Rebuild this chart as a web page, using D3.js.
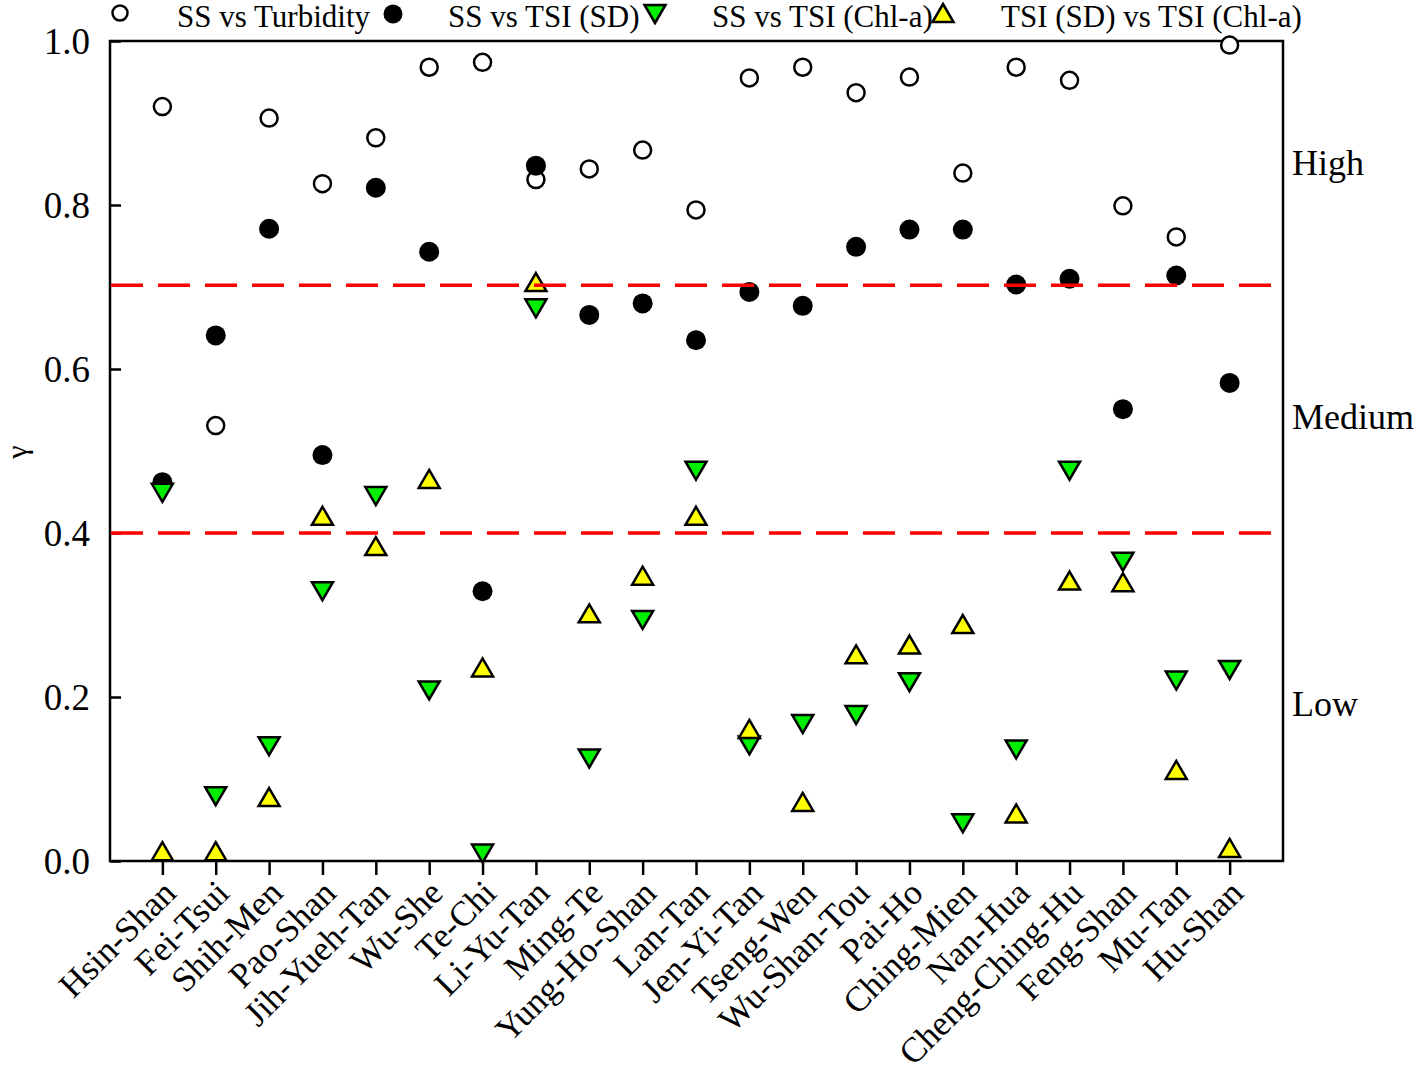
<!DOCTYPE html>
<html>
<head>
<meta charset="utf-8">
<script src="https://cdn.jsdelivr.net/npm/d3@7"></script>
<style>
  html, body { margin: 0; padding: 0; background: #fff; }
  svg { display: block; }
  text { font-family: "Liberation Serif", "Times New Roman", serif; fill: #000; }
</style>
</head>
<body>
<svg id="chart" width="1416" height="1080"></svg>
<script>
// ---------------- DATA ----------------
const categories = ["Hsin-Shan","Fei-Tsui","Shih-Men","Pao-Shan","Jih-Yueh-Tan","Wu-She","Te-Chi",
  "Li-Yu-Tan","Ming-Te","Yung-Ho-Shan","Lan-Tan","Jen-Yi-Tan","Tseng-Wen","Wu-Shan-Tou","Pai-Ho",
  "Ching-Mien","Nan-Hua","Cheng-Ching-Hu","Feng-Shan","Mu-Tan","Hu-Shan"];

const ssVsTurbidity = [0.920,0.531,0.906,0.826,0.882,0.968,0.974,0.831,0.844,0.867,0.794,
  0.955,0.968,0.937,0.956,0.839,0.968,0.952,0.799,0.761,0.995];
const ssVsTsiSD = [0.462,0.641,0.771,0.495,0.821,0.743,0.329,0.848,0.666,0.680,0.635,
  0.694,0.677,0.749,0.770,0.770,0.703,0.710,0.551,0.714,0.583];
const ssVsTsiChla = [0.449,0.079,0.140,0.329,0.445,0.208,0.009,0.674,0.125,0.294,0.476,
  0.141,0.167,0.178,0.218,0.046,0.136,0.476,0.365,0.220,0.233];
const tsiSDvsTsiChla = [0.012,0.012,0.078,0.421,0.384,0.466,0.236,0.706,0.302,0.348,0.421,
  0.161,0.072,0.252,0.264,0.289,0.058,0.342,0.340,0.111,0.016];

const yTicks = [0.0,0.2,0.4,0.6,0.8,1.0];
const thresholds = [0.4,0.702];
const levelLabels = [{text:"High", v:0.85},{text:"Medium", v:0.54},{text:"Low", v:0.19}];
const seriesNames = ["SS vs Turbidity","SS vs TSI (SD)","SS vs TSI (Chl-a)","TSI (SD) vs TSI (Chl-a)"];

// ---------------- LAYOUT ----------------
const svg = d3.select("#chart");
const L = 110, R = 1283, T = 41, B = 861;

const x = d3.scaleLinear().domain([0, categories.length + 1]).range([L - 1, R]);
const y = d3.scaleLinear().domain([0, 1]).range([B, T]);

// x ticks (outward) and rotated labels
const xAxis = d3.axisBottom(x)
  .tickValues(d3.range(1, categories.length + 1))
  .tickSize(14).tickSizeOuter(0)
  .tickFormat(i => categories[i - 1]);
const gx = svg.append("g").attr("transform", `translate(0,${B})`).call(xAxis);
gx.select(".domain").remove();
gx.selectAll(".tick line").attr("stroke", "#000").attr("stroke-width", 2.5);
gx.selectAll(".tick text")
  .attr("font-size", 35)
  .attr("text-anchor", "end")
  .attr("x", 0).attr("y", 0).attr("dy", 0)
  .attr("transform", "translate(15,34) rotate(-45)");

// y ticks (inward)
const yAxis = d3.axisLeft(y).tickValues(yTicks).tickSize(-11).tickSizeOuter(0)
  .tickFormat(d3.format(".1f"));
const gy = svg.append("g").attr("transform", `translate(${L},0)`).call(yAxis);
gy.select(".domain").remove();
gy.selectAll(".tick line").attr("stroke", "#000").attr("stroke-width", 2.5);
gy.selectAll(".tick text").attr("font-size", 37).attr("x", -20).attr("dy", "0.34em");

// frame
svg.append("rect").attr("x", L).attr("y", T).attr("width", R - L).attr("height", B - T)
  .attr("fill", "none").attr("stroke", "#000").attr("stroke-width", 2.5);

// y label
svg.append("text").attr("transform", "translate(27,452) rotate(-90)")
  .attr("text-anchor", "middle").attr("font-size", 30).text("γ");

// level labels
svg.selectAll(".lvl").data(levelLabels).enter().append("text")
  .attr("x", R + 9).attr("y", d => y(d.v) + 11)
  .attr("font-size", 36).text(d => d.text);

// ---------------- MARKS ----------------
const idx = d3.range(categories.length);
const cx = i => x(i + 1);

// triangle centred on its bounding box
const triH = 18, triW = 21;
const triUp = `M0,${-triH/2}L${triW/2},${triH/2}L${-triW/2},${triH/2}Z`;
const triDownP = `M0,${triH/2}L${triW/2},${-triH/2}L${-triW/2},${-triH/2}Z`;

svg.append("g").selectAll("circle").data(idx).enter().append("circle")
  .attr("cx", cx).attr("cy", i => y(ssVsTurbidity[i])).attr("r", 8.5)
  .attr("fill", "#fff").attr("stroke", "#000").attr("stroke-width", 2.5);

svg.append("g").selectAll("circle").data(idx).enter().append("circle")
  .attr("cx", cx).attr("cy", i => y(ssVsTsiSD[i])).attr("r", 10)
  .attr("fill", "#000");

svg.append("g").selectAll("path").data(idx).enter().append("path")
  .attr("d", triDownP)
  .attr("transform", i => `translate(${cx(i)},${y(ssVsTsiChla[i])})`)
  .attr("fill", "#00ee00").attr("stroke", "#000").attr("stroke-width", 2.5);

svg.append("g").selectAll("path").data(idx).enter().append("path")
  .attr("d", triUp)
  .attr("transform", i => `translate(${cx(i)},${y(tsiSDvsTsiChla[i])})`)
  .attr("fill", "#ffff00").attr("stroke", "#000").attr("stroke-width", 2.5);

// threshold lines
svg.append("g").selectAll("line").data(thresholds).enter().append("line")
  .attr("x1", L + 1).attr("x2", R - 1)
  .attr("y1", d => y(d)).attr("y2", d => y(d))
  .attr("stroke", "#ff0000").attr("stroke-width", 3.5)
  .attr("stroke-dasharray", "32,15");

// ---------------- LEGEND ----------------
const lg = svg.append("g");
const legendItems = [
  {sym: "open", sx: 120, tx: 177},
  {sym: "filled", sx: 393, tx: 448},
  {sym: "down", sx: 655, tx: 712},
  {sym: "up", sx: 943, tx: 1001}
];
legendItems.forEach((it, k) => {
  if (it.sym === "open") {
    lg.append("circle").attr("cx", it.sx).attr("cy", 13).attr("r", 7.5)
      .attr("fill", "#fff").attr("stroke", "#000").attr("stroke-width", 2.5);
  } else if (it.sym === "filled") {
    lg.append("circle").attr("cx", it.sx).attr("cy", 14).attr("r", 9.5).attr("fill", "#000");
  } else if (it.sym === "down") {
    lg.append("path").attr("d", triDownP).attr("transform", `translate(${it.sx},14)`)
      .attr("fill", "#00ee00").attr("stroke", "#000").attr("stroke-width", 2.5);
  } else {
    lg.append("path").attr("d", triUp).attr("transform", `translate(${it.sx},13)`)
      .attr("fill", "#ffff00").attr("stroke", "#000").attr("stroke-width", 2.5);
  }
  lg.append("text").attr("x", it.tx).attr("y", 27).attr("font-size", 31).text(seriesNames[k]);
});
</script>
</body>
</html>
